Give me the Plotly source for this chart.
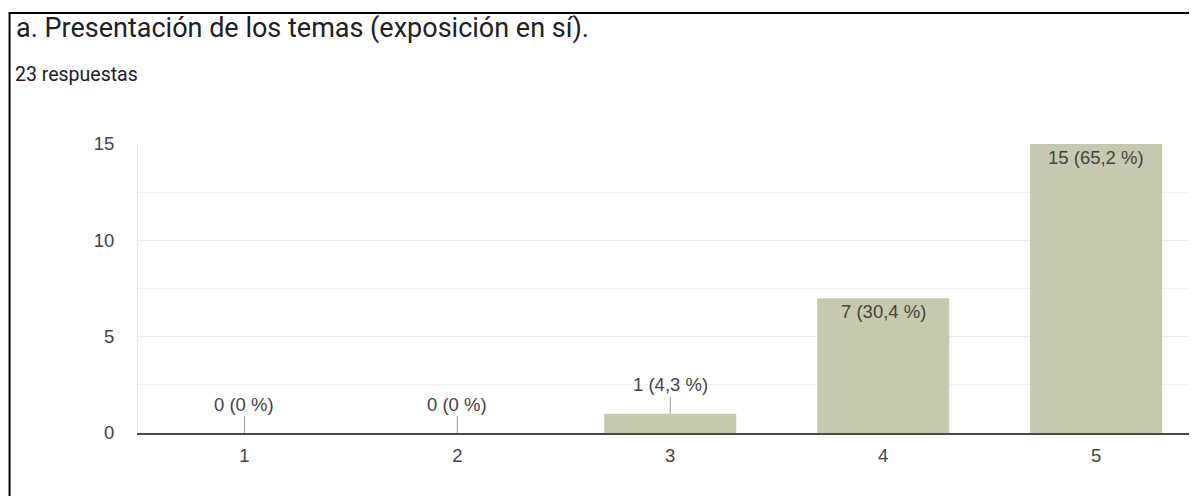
import plotly.graph_objects as go

categories = ["1", "2", "3", "4", "5"]
counts = [0, 0, 1, 7, 15]
percents = ["0 %", "0 %", "4,3 %", "30,4 %", "65,2 %"]
y_ticks = [0, 5, 10, 15]

title_text = "a. Presentación de los temas (exposición en sí)."
subtitle_text = "23 respuestas"

# the page places the figure 8px in from the top-left corner
OFF = 8
W, H = 1197 - OFF, 496 - OFF
ML, MR, MT, MB = 137.5 - OFF, 0, 144 - OFF, 496 - 433
CAT_PX = 213.0

xpos = [i + 1 for i in range(len(categories))]
labels = [f"{c} ({p})" for c, p in zip(counts, percents)]

LABEL_FONT = dict(family="Liberation Sans, Arial", size=18.5, color="#444444")

fig = go.Figure()
fig.add_trace(go.Bar(
    x=xpos, y=counts, width=0.62,
    marker=dict(color="#c6c9b0", line=dict(width=0)),
    hoverinfo="skip",
))

annotations = []
for x, v, lab in zip(xpos, counts, labels):
    if v >= 3:
        annotations.append(dict(
            x=x, y=v, xref="x", yref="y", text=lab, showarrow=False,
            yanchor="top", yshift=-1, font=LABEL_FONT,
        ))
    else:
        annotations.append(dict(
            x=x, y=v, xref="x", yref="y", text=lab, showarrow=True,
            arrowhead=0, arrowwidth=1, arrowcolor="#999999",
            ax=0, ay=-29, standoff=0, font=LABEL_FONT,
        ))

pw, ph = W - ML - MR, H - MT - MB

def fx(px):  # page pixel -> plot-paper fraction
    return (px - OFF - ML) / pw

def fy(py):
    return (H - MB - (py - OFF)) / ph

annotations.append(dict(
    x=fx(13), y=fy(28), xref="paper", yref="paper", text=title_text,
    showarrow=False, xanchor="left", yanchor="middle",
    font=dict(family="Roboto", size=27, color="#202124"),
))
annotations.append(dict(
    x=fx(12), y=fy(75), xref="paper", yref="paper", text=subtitle_text,
    showarrow=False, xanchor="left", yanchor="middle",
    font=dict(family="Roboto", size=19.5, color="#202124"),
))

shapes = [
    dict(type="line", xref="paper", yref="paper",
         x0=fx(9), x1=fx(9), y0=fy(500), y1=fy(13),
         line=dict(color="#000000", width=2)),
    dict(type="line", xref="paper", yref="paper",
         x0=fx(8), x1=fx(1200), y0=fy(13), y1=fy(13),
         line=dict(color="#000000", width=2)),
]

fig.update_layout(
    width=W, height=H,
    margin=dict(l=ML, r=MR, t=MT, b=MB, pad=0),
    paper_bgcolor="white", plot_bgcolor="white",
    showlegend=False,
    annotations=annotations,
    shapes=shapes,
    xaxis=dict(
        range=[0.5, 0.5 + pw / CAT_PX],
        tickmode="array", tickvals=xpos, ticktext=categories,
        showgrid=False, zeroline=False,
        showline=True, linecolor="#4a4a4a", linewidth=1.5,
        ticks="", ticklabelstandoff=5,
        tickfont=dict(family="Liberation Sans, Arial", size=18.5, color="#444444"),
        fixedrange=True,
    ),
    yaxis=dict(
        range=[0, 15], tickmode="array", tickvals=y_ticks,
        minor=dict(dtick=2.5, showgrid=True, gridcolor="#f2f2f2", gridwidth=1),
        showgrid=True, gridcolor="#ebebeb", gridwidth=1,
        zeroline=False, showline=True, linecolor="#ebebeb", linewidth=1,
        ticks="", ticklabelstandoff=19,
        tickfont=dict(family="Liberation Sans, Arial", size=18.5, color="#444444"),
        fixedrange=True,
    ),
)

fig.write_html("out.html")
